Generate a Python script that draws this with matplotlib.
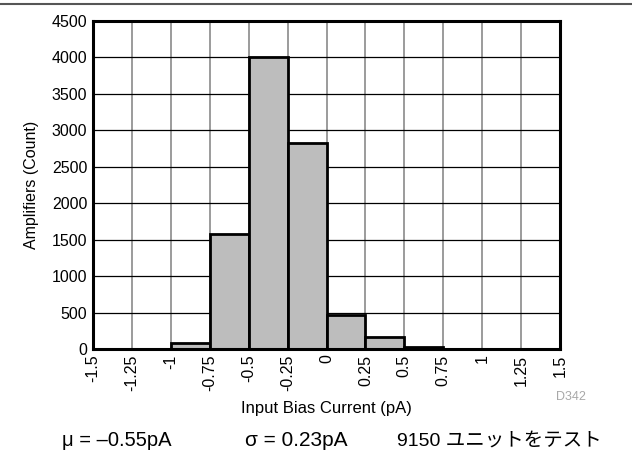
import matplotlib
matplotlib.use("Agg")
import matplotlib.pyplot as plt
from matplotlib.lines import Line2D

# bin edges (pA) and counts
bin_left = [-1.5, -1.25, -1.0, -0.75, -0.5, -0.25, 0.0, 0.25, 0.5, 0.75, 1.0, 1.25]
counts = [0, 0, 85, 1580, 4000, 2820, 470, 160, 30, 0, 0, 0]
bin_width = 0.25

x_ticks = [-1.5, -1.25, -1, -0.75, -0.5, -0.25, 0, 0.25, 0.5, 0.75, 1, 1.25, 1.5]
x_ticklabels = ["-1.5", "-1.25", "-1", "-0.75", "-0.5", "-0.25", "0",
                "0.25", "0.5", "0.75", "1", "1.25", "1.5"]
y_ticks = [0, 500, 1000, 1500, 2000, 2500, 3000, 3500, 4000, 4500]

plt.rcParams['font.family'] = ['Liberation Sans', 'Noto Sans CJK JP', 'DejaVu Sans']

fig = plt.figure(figsize=(6.32, 4.55), dpi=100)
ax = fig.add_axes([93 / 632, 1 - 349 / 455, 467 / 632, 328 / 455])

# grid: vertical gray, horizontal black
for xv in x_ticks[1:-1]:
    ax.axvline(xv, color="#808080", lw=1.1, zorder=0)
for yv in y_ticks[1:-1]:
    ax.axhline(yv, color="black", lw=0.9, zorder=0)

ax.bar(bin_left, counts, width=bin_width, align="edge",
       color="#bdbdbd", edgecolor="black", linewidth=2, zorder=2)

ax.set_xlim(-1.5, 1.5)
ax.set_ylim(0, 4500)
ax.set_xticks(x_ticks)
ax.set_xticklabels(x_ticklabels, rotation=90, fontsize=11.5)
ax.set_yticks(y_ticks)
ax.set_yticklabels([str(v) for v in y_ticks], fontsize=11.5)
ax.tick_params(length=0, pad=4)
for s in ax.spines.values():
    s.set_linewidth(2.2)
    s.set_zorder(5)

ax.set_ylabel("Amplifiers (Count)", fontsize=11.5)
ax.yaxis.set_label_coords((39 - 93) / 467, 0.5)
fig.text(326 / 632, 1 - 409 / 455, "Input Bias Current (pA)", fontsize=12,
         ha="center", va="center")
fig.text(571 / 632, 1 - 397 / 455, "D342", fontsize=9, color="#a8a8a8",
         ha="center", va="center")

# summary line
fig.text(62 / 632, 1 - 441 / 455, "μ = –0.55pA", fontsize=14.5, va="center")
fig.text(245 / 632, 1 - 441 / 455, "σ = 0.23pA", fontsize=15, va="center")
fig.text(397 / 632, 1 - 441 / 455, "9150 ユニットをテスト", fontsize=14, va="center")

# top rule
fig.add_artist(Line2D([0, 1], [1 - 4 / 455, 1 - 4 / 455], color="#555555", lw=1.5))

fig.savefig("out.png", dpi=100)
